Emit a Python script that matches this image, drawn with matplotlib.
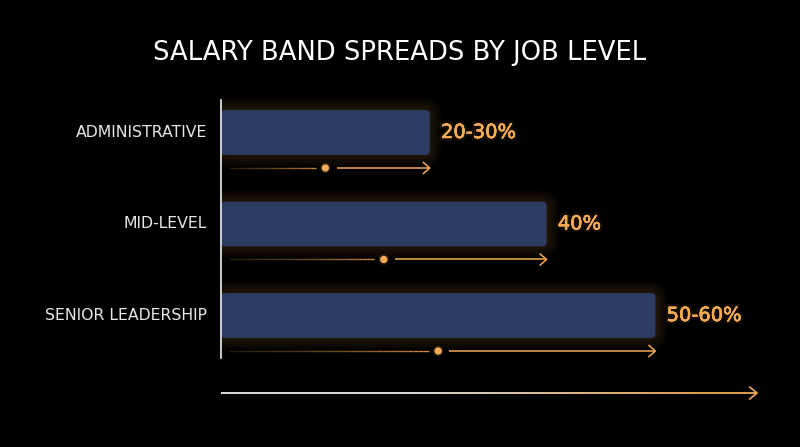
import numpy as np
import matplotlib
matplotlib.use("Agg")
import matplotlib.pyplot as plt
from matplotlib.patches import FancyBboxPatch
from matplotlib.collections import LineCollection
from matplotlib.colors import to_rgb
import matplotlib.patheffects as pe

categories = ["ADMINISTRATIVE", "MID-LEVEL", "SENIOR LEADERSHIP"]
spread_values = [26.1, 40.7, 54.3]
value_labels = ["20-30%", "40%", "50-60%"]
title = "SALARY BAND SPREADS BY JOB LEVEL"

BG = "#000000"
BAR = "#2d3c62"
ORANGE = "#f4ab55"
WHITE = "#eeeeee"

fig = plt.figure(figsize=(8, 4.47), dpi=100, facecolor=BG)
W, H = 800, 447
ax = fig.add_axes([221 / W, (H - 393) / H, (757 - 221) / W, (393 - 99) / H])
ax.set_facecolor(BG)
ax.set_xlim(0, 67)
ax.set_ylim(2.847, -0.366)
for s in ax.spines.values():
    s.set_visible(False)
ax.set_xticks([])
ax.set_yticks([])

px_x = 8.0      # pixels per x unit
px_y = 91.5     # pixels per y unit
aspect = px_x / px_y
bar_h = 0.49
line_off = 0.388

glow = to_rgb(ORANGE)
for i, (cat, v, lab) in enumerate(zip(categories, spread_values, value_labels)):
    # soft glow
    for k in range(10):
        pad = 0.15 + k * 0.16
        g = FancyBboxPatch((0, i - bar_h / 2), v, bar_h,
                           boxstyle=f"round,pad={pad},rounding_size={0.6 + 1.2 * pad}",
                           mutation_aspect=aspect, facecolor=glow, edgecolor="none",
                           alpha=0.016, zorder=1)
        ax.add_patch(g)
    bar = FancyBboxPatch((0, i - bar_h / 2), v, bar_h,
                         boxstyle="round,pad=0,rounding_size=0.55",
                         mutation_aspect=aspect, facecolor=BAR, edgecolor="none",
                         zorder=3)
    ax.add_patch(bar)

    # category label
    ax.text(-1.75, i, cat, ha="right", va="center", color="#e6e6e6",
            fontsize=11.3, family="DejaVu Sans", zorder=5)
    # value label
    ax.text(v + 1.4, i, lab, ha="left", va="center", color=ORANGE,
            fontsize=14, family="DejaVu Sans", zorder=5,
            path_effects=[pe.withStroke(linewidth=4, foreground=(*glow, 0.08)),
                          pe.withStroke(linewidth=0.4, foreground=ORANGE)])

    # indicator line under the bar
    y = i + line_off
    mid = v / 2
    xs = np.linspace(1.0, mid - 1.2, 40)
    segs = [[(xs[j], y), (xs[j + 1], y)] for j in range(len(xs) - 1)]
    t = np.linspace(0, 1, len(segs))
    cols = [(0.35 + 0.55 * tt, 0.25 + 0.35 * tt, 0.12 + 0.15 * tt, 0.45 + 0.45 * tt) for tt in t]
    ax.add_collection(LineCollection(segs, colors=cols, linewidths=1.0, zorder=4))
    ax.plot([mid + 1.4, v], [y, y], color=ORANGE, lw=1.1, zorder=4,
            solid_capstyle="butt")
    ax.plot([v - 0.8, v, v - 0.8], [y - 0.06, y, y + 0.06], color=ORANGE, lw=1.1,
            zorder=4, solid_joinstyle="miter")
    ax.scatter([mid], [y], s=60, color=ORANGE, alpha=0.15, edgecolors="none", zorder=4)
    ax.scatter([mid], [y], s=28, color=ORANGE, edgecolors="none", zorder=5)

# vertical axis line
ax.plot([0, 0], [-0.36, 2.464], color=WHITE, lw=1.2, zorder=6, clip_on=False)

# bottom axis with gradient white -> orange
yb = 2.847
xs = np.linspace(0, 67, 120)
segs = [[(xs[j], yb), (xs[j + 1], yb)] for j in range(len(xs) - 1)]
w = to_rgb(WHITE)
cols = []
for tt in np.linspace(0, 1, len(segs)):
    f = min(1.0, max(0.0, (tt - 0.35) / 0.55))
    cols.append(tuple(w[c] * (1 - f) + glow[c] * f for c in range(3)))
ax.add_collection(LineCollection(segs, colors=cols, linewidths=1.3, zorder=6, clip_on=False))
ax.plot([66.1, 67, 66.1], [yb - 0.065, yb, yb + 0.065], color=ORANGE, lw=1.2,
        zorder=6, clip_on=False, solid_joinstyle="miter")

fig.text(0.5, 1 - 53 / H, title, ha="center", va="center", color="#ffffff",
         fontsize=18.6, family="DejaVu Sans")

fig.savefig("out.png", dpi=100, facecolor=BG)
